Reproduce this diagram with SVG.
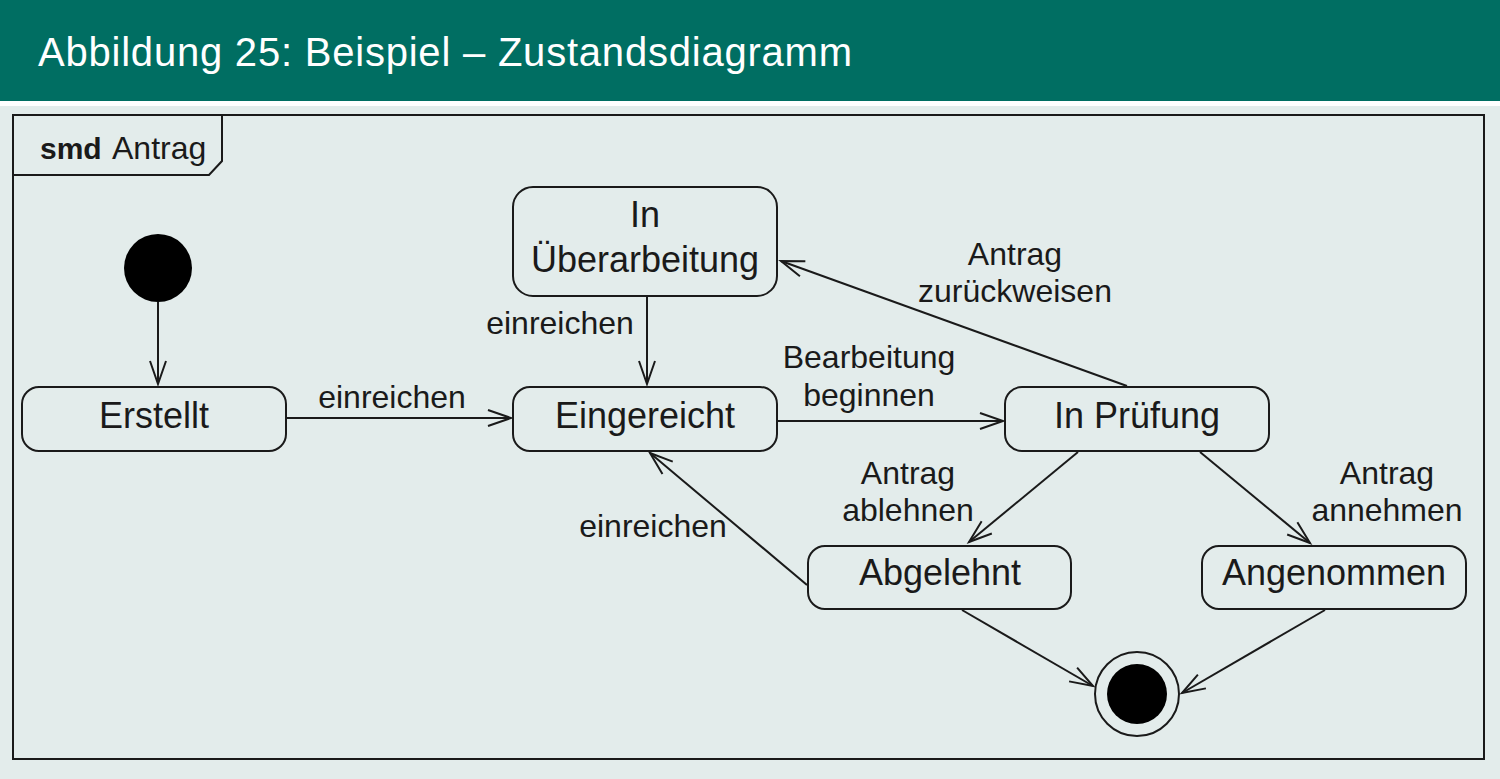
<svg xmlns="http://www.w3.org/2000/svg" width="1500" height="779" viewBox="0 0 1500 779">
  <defs>
    <style>
      .node { fill: none; stroke: #1a1a1a; stroke-width: 2; }
      .edge { fill: none; stroke: #1a1a1a; stroke-width: 2; }
      .ntext { font-family: "Liberation Sans", Arial, sans-serif; font-size: 36px; fill: #1a1a1a; text-anchor: middle; }
      .ltext { font-family: "Liberation Sans", Arial, sans-serif; font-size: 32px; fill: #1a1a1a; text-anchor: middle; }
    </style>
    <marker id="arr" markerUnits="userSpaceOnUse" markerWidth="30" markerHeight="20" viewBox="-26 -10 30 20" refX="0" refY="0" orient="auto">
      <path d="M-23,-8 L0,0 L-23,8" fill="none" stroke="#1a1a1a" stroke-width="2"/>
    </marker>
  </defs>

  <rect x="0" y="0" width="1500" height="779" fill="#E3ECEB"/>
  <rect x="0" y="0" width="1500" height="101" fill="#006E62"/>
  <rect x="0" y="101" width="1500" height="5" fill="#ffffff"/>
  <text x="38" y="66" font-family="'Liberation Sans', Arial, sans-serif" font-size="40" fill="#ffffff" textLength="814" lengthAdjust="spacing">Abbildung 25: Beispiel – Zustandsdiagramm</text>

  <g id="frame">
    <rect x="13" y="115" width="1471" height="644" fill="none" stroke="#1a1a1a" stroke-width="2"/>
    <path d="M13,175 L209,175 L222,161 L222,115" fill="none" stroke="#1a1a1a" stroke-width="2"/>
    <text x="40" y="159" font-family="'Liberation Sans', Arial, sans-serif" font-size="30" fill="#1a1a1a"><tspan font-weight="bold">smd</tspan><tspan x="112" font-size="32">Antrag</tspan></text>
  </g>

  <g id="connectors">
    <line class="edge" x1="158" y1="302" x2="158" y2="384" marker-end="url(#arr)"/>
    <line class="edge" x1="286" y1="418" x2="511" y2="418" marker-end="url(#arr)"/>
    <line class="edge" x1="647" y1="296" x2="647" y2="384" marker-end="url(#arr)"/>
    <line class="edge" x1="777" y1="421" x2="1003" y2="421" marker-end="url(#arr)"/>
    <line class="edge" x1="1127" y1="386" x2="781" y2="261" marker-end="url(#arr)"/>
    <line class="edge" x1="1078" y1="452" x2="969" y2="542" marker-end="url(#arr)"/>
    <line class="edge" x1="1200" y1="452" x2="1310" y2="543" marker-end="url(#arr)"/>
    <line class="edge" x1="807" y1="585" x2="650" y2="453" marker-end="url(#arr)"/>
    <line class="edge" x1="962" y1="610" x2="1093" y2="686" marker-end="url(#arr)"/>
    <line class="edge" x1="1325" y1="610" x2="1182" y2="693" marker-end="url(#arr)"/>

    <text class="ltext" x="392" y="408">einreichen</text>
    <text class="ltext" x="560" y="334">einreichen</text>
    <text class="ltext" x="869" y="368">Bearbeitung</text>
    <text class="ltext" x="869" y="406">beginnen</text>
    <text class="ltext" x="1015" y="265">Antrag</text>
    <text class="ltext" x="1015" y="302">zurückweisen</text>
    <text class="ltext" x="908" y="484">Antrag</text>
    <text class="ltext" x="908" y="521">ablehnen</text>
    <text class="ltext" x="1387" y="484">Antrag</text>
    <text class="ltext" x="1387" y="521">annehmen</text>
    <text class="ltext" x="653" y="537">einreichen</text>
  </g>

  <g id="initial">
    <circle cx="158" cy="268" r="34" fill="#000"/>
  </g>

  <g id="erstellt">
    <rect class="node" x="22" y="387" width="264" height="64" rx="17"/>
    <text class="ntext" x="154" y="428">Erstellt</text>
  </g>

  <g id="eingereicht">
    <rect class="node" x="513" y="387" width="264" height="64" rx="17"/>
    <text class="ntext" x="645" y="428">Eingereicht</text>
  </g>

  <g id="ueberarbeitung">
    <rect class="node" x="513" y="187" width="264" height="109" rx="20"/>
    <text class="ntext" x="645" y="227">In</text>
    <text class="ntext" x="645" y="272">Überarbeitung</text>
  </g>

  <g id="pruefung">
    <rect class="node" x="1005" y="387" width="264" height="64" rx="17"/>
    <text class="ntext" x="1137" y="428">In Prüfung</text>
  </g>

  <g id="abgelehnt">
    <rect class="node" x="808" y="546" width="263" height="63" rx="17"/>
    <text class="ntext" x="940" y="585">Abgelehnt</text>
  </g>

  <g id="angenommen">
    <rect class="node" x="1202" y="546" width="264" height="63" rx="17"/>
    <text class="ntext" x="1334" y="585">Angenommen</text>
  </g>

  <g id="final">
    <circle cx="1137" cy="694" r="42" fill="none" stroke="#1a1a1a" stroke-width="2"/>
    <circle cx="1137" cy="694" r="30" fill="#000"/>
  </g>
</svg>
